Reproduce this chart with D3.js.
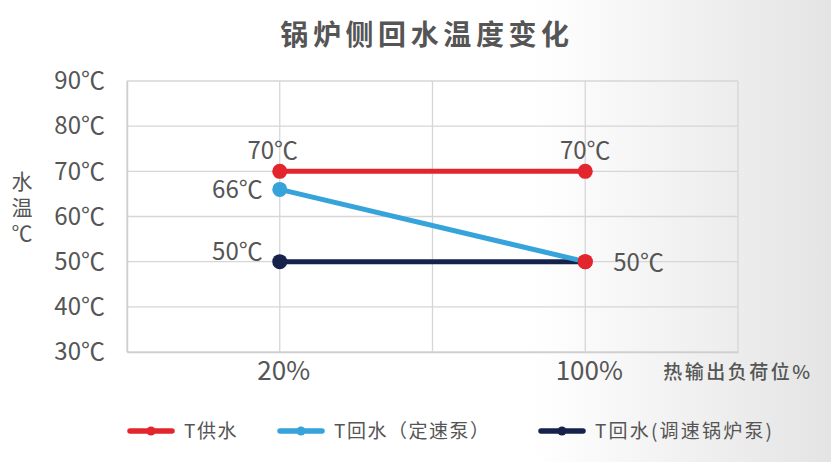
<!DOCTYPE html>
<html><head><meta charset="utf-8">
<script src="https://cdn.jsdelivr.net/npm/d3@7"></script>
<style>html,body{margin:0;padding:0;background:#fff;}svg{display:block;}</style>
</head><body>
<svg id="chart" width="831" height="462"></svg>
<script>
const categories = ["20%", "100%"];
const yTicks = [30, 40, 50, 60, 70, 80, 90];
const supplyValues = [70, 70];        // T供水
const returnFixedValues = [66, 50];   // T回水（定速泵）
const returnVarValues = [50, 50];     // T回水(调速锅炉泵)
const seriesNames = ["T供水", "T回水（定速泵）", "T回水(调速锅炉泵)"];
const seriesColors = ["#e3252e", "#36a3da", "#17224c"];
const title = "锅炉侧回水温度变化";
const yTitle = "水温℃";
const xTitle = "热输出负荷位%";

(function () {
const svg = d3.select("#chart");
const W = 831, H = 462;
const font = "'Noto Sans CJK SC','Noto Sans',sans-serif";
const textColor = "#555";

const defs = svg.append("defs");
const grad = defs.append("linearGradient").attr("id", "bg").attr("x1", 0).attr("x2", 1).attr("y1", 0).attr("y2", 0);
grad.append("stop").attr("offset", 0).attr("stop-color", "#ffffff");
grad.append("stop").attr("offset", 0.64).attr("stop-color", "#ffffff");
grad.append("stop").attr("offset", 1).attr("stop-color", "#e4e4e4");
svg.append("rect").attr("width", W).attr("height", H).attr("fill", "url(#bg)");

const pL = 127, pR = 738, pT = 81, pB = 352;
const x = d3.scaleBand().domain(categories).range([pL, pR]).paddingInner(0).paddingOuter(0);
const y = d3.scaleLinear().domain([30, 90]).range([pB, pT]);
const cx = c => x(c) + x.bandwidth() / 2;

const grid = svg.append("g").attr("stroke", "#d6d6d6").attr("stroke-width", 1.3);
yTicks.forEach(t => grid.append("line").attr("x1", pL).attr("x2", pR).attr("y1", y(t)).attr("y2", y(t)));
const vx = [];
categories.forEach(c => { vx.push(x(c)); vx.push(cx(c)); });
vx.push(pR);
vx.forEach(v => grid.append("line").attr("x1", v).attr("x2", v).attr("y1", pT).attr("y2", pB));

const yAxis = svg.append("g").attr("transform", `translate(${pL},0)`)
  .call(d3.axisLeft(y).tickValues(yTicks).tickSize(0).tickPadding(22).tickFormat(d => d + "℃"));
yAxis.select(".domain").attr("stroke", "#cfcfcf").attr("stroke-width", 1.5);
yAxis.selectAll("text").attr("font-family", font).attr("font-size", 24).attr("fill", textColor);

const xAxis = svg.append("g").attr("transform", `translate(0,${pB})`)
  .call(d3.axisBottom(x).tickSize(0).tickPadding(10));
xAxis.select(".domain").attr("stroke", "#cfcfcf").attr("stroke-width", 1.5);
xAxis.selectAll("text").attr("font-family", font).attr("font-size", 26).attr("fill", textColor).attr("dx", 4);

svg.append("text").attr("x", 427).attr("y", 45).attr("text-anchor", "middle")
  .attr("font-family", font).attr("font-size", 28).attr("font-weight", "bold").attr("letter-spacing", 4.6)
  .attr("fill", textColor).text(title);
svg.append("text").attr("x", 22).attr("y", 171).attr("writing-mode", "vertical-rl")
  .style("writing-mode", "vertical-rl").style("text-orientation", "upright")
  .attr("font-family", font).attr("font-size", 21).attr("letter-spacing", 5).attr("fill", textColor).text(yTitle);
svg.append("text").attr("x", 738).attr("y", 379).attr("text-anchor", "middle")
  .attr("font-family", font).attr("font-size", 19).attr("font-weight", 500).attr("letter-spacing", 2.5)
  .attr("fill", textColor).text(xTitle);

const allSeries = [supplyValues, returnFixedValues, returnVarValues];
const line = d3.line().x((d, i) => cx(categories[i])).y(d => y(d));
[2, 1, 0].forEach(s => {
  svg.append("path").datum(allSeries[s]).attr("d", line).attr("fill", "none")
    .attr("stroke", seriesColors[s]).attr("stroke-width", 5).attr("stroke-linecap", "round");
});
const markerOrder = [1, 2, 0];
markerOrder.forEach(s => {
  allSeries[s].forEach((v, i) => {
    const col = (i === categories.length - 1) ? seriesColors[0] : seriesColors[s];
    svg.append("circle").attr("cx", cx(categories[i])).attr("cy", y(v)).attr("r", 7.5).attr("fill", col);
  });
});

const lab = (px, py, anchor, txt) => svg.append("text").attr("x", px).attr("y", py).attr("text-anchor", anchor)
  .attr("font-family", font).attr("font-size", 24).attr("fill", textColor).text(txt);
lab(cx(categories[0]) - 7, y(supplyValues[0]) - 12, "middle", supplyValues[0] + "℃");
lab(cx(categories[1]), y(supplyValues[1]) - 12, "middle", supplyValues[1] + "℃");
lab(cx(categories[0]) - 17, y(returnFixedValues[0]) + 9, "end", returnFixedValues[0] + "℃");
lab(cx(categories[0]) - 17, y(returnVarValues[0]) - 2, "end", returnVarValues[0] + "℃");
lab(cx(categories[1]) + 28, y(returnFixedValues[1]) + 9, "start", returnFixedValues[1] + "℃");

const legendX = [127, 277, 538];
const legendY = 431;
seriesNames.forEach((n, i) => {
  const g = svg.append("g");
  g.append("line").attr("x1", legendX[i] + 3).attr("x2", legendX[i] + 45).attr("y1", legendY).attr("y2", legendY)
    .attr("stroke", seriesColors[i]).attr("stroke-width", 5.5).attr("stroke-linecap", "round");
  g.append("circle").attr("cx", legendX[i] + 24).attr("cy", legendY).attr("r", 4.5).attr("fill", seriesColors[i]);
  g.append("text").attr("x", legendX[i] + 57).attr("y", legendY + 7).attr("font-family", font).attr("font-size", 19)
    .attr("letter-spacing", i === 2 ? 2.2 : 1.5).attr("fill", textColor).text(n);
});
})();
</script>
</body></html>
